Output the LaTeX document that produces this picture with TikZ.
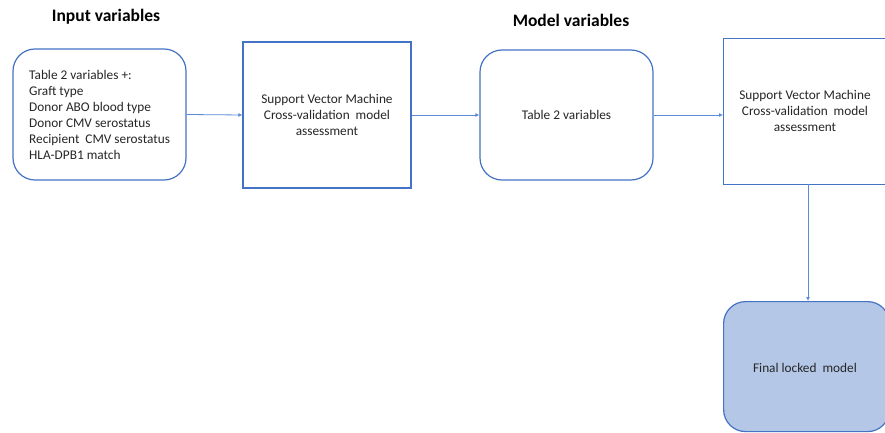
\documentclass[tikz,border=0pt]{standalone}
\usepackage{fontspec}
\setmainfont{Carlito}
\usetikzlibrary{arrows.meta}
\definecolor{boxblue}{HTML}{4472C4}
\definecolor{lineblue}{HTML}{5B8BD6}
\definecolor{fillblue}{HTML}{B4C7E7}
\definecolor{txt}{HTML}{262626}
\begin{document}
\begin{tikzpicture}[x=1pt,y=-1pt,
  body/.style={text=txt,font=\fontsize{13.3}{16}\selectfont},
  box/.style={draw=boxblue,line width=1.2pt,minimum width=#1,body,inner sep=0pt},
  sqbox/.style={box=#1},
  rbox/.style={box=#1,rounded corners=22pt},
  conn/.style={draw=lineblue,line width=0.8pt,-{Latex[length=4pt,width=4pt]}},
  head/.style={font=\fontsize{17.5}{21}\selectfont\bfseries,text=black}]
\useasboundingbox (0,0) rectangle (885,433);
\clip (0,0) rectangle (885,433);
\fill[white] (0,0) rectangle (885,433);
\node[head] (h1) at (106,17) {Input variables};
\node[head] (h2) at (571,20) {Model variables};
\node[rbox=173pt,minimum height=131pt] (b1) at (99.5,114.5) {};
\node[anchor=north west,align=left,body,inner sep=0pt] (t1) at (29,70) {Table 2 variables +:\\Graft type\\Donor ABO blood type\\Donor CMV serostatus\\Recipient\ \ CMV serostatus\\HLA-DPB1 match};
\node[sqbox=168pt,minimum height=146pt,align=center] (b2) at (327,115) {Support Vector Machine\\Cross-validation\ \ model\\assessment};
\node[rbox=173pt,minimum height=130pt] (b3) at (566.5,115) {Table 2 variables};
\node[sqbox=166pt,minimum height=146pt,anchor=north west] (b4) at (723,38) {};
\node[align=center,body] (t4) at (805,111) {Support Vector Machine\\Cross-validation\ \ model\\assessment};
\node[rbox=166pt,minimum height=130pt,fill=fillblue,anchor=north west] (b5) at (723,301) {};
\node[body] (t5) at (805,368) {Final locked\ \ model};
\coordinate (a4top) at (808,184);
\coordinate (a5top) at (808,301);
\draw[conn] (b1.east) -- (b2.west);
\draw[conn] (b2.east) -- (b3.west);
\draw[conn] (b3.east) -- (b3.east -| b4.west);
\draw[conn] (a4top) -- (a5top);
\end{tikzpicture}
\end{document}
